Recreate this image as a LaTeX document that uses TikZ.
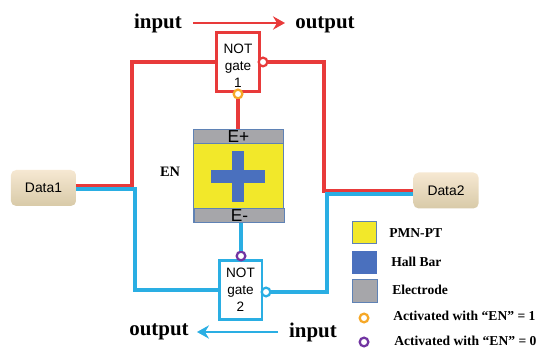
\documentclass[tikz,border=0pt]{standalone}
\usepackage{fontspec}
\setmainfont{Liberation Serif}
\setsansfont{Liberation Sans}
\usetikzlibrary{arrows.meta,positioning}
\definecolor{wirered}{HTML}{E83A3A}
\definecolor{wireblue}{HTML}{2AAEE3}
\definecolor{chipyellow}{HTML}{F2E82A}
\definecolor{hallblue}{HTML}{4A70BE}
\definecolor{elecgray}{HTML}{A6A6AA}
\definecolor{elecedge}{HTML}{5F82B5}
\definecolor{bubor}{HTML}{F6A828}
\definecolor{bubpu}{HTML}{7235A2}
\definecolor{datatop}{HTML}{F6E8D2}
\definecolor{databot}{HTML}{D8CAA8}
\begin{document}
\begin{tikzpicture}[x=0.75pt,y=-0.75pt,
  gatebox/.style={draw,line width=2pt,fill=white,minimum width=32pt,minimum height=44pt,align=center,font=\sffamily\fontsize{10.2}{12.8}\selectfont,inner sep=0pt},
  bub/.style={circle,draw,line width=1.7pt,fill=white,minimum size=6.5pt,inner sep=0pt},
  datab/.style={rounded corners=4pt,top color=datatop,bottom color=databot,minimum width=49pt,minimum height=27pt,font=\sffamily\fontsize{10.4}{12}\selectfont,inner sep=0pt},
  elec/.style={draw=elecedge,line width=0.6pt,fill=elecgray,minimum width=68pt,minimum height=11pt,font=\sffamily\fontsize{13}{13}\selectfont,inner sep=0pt},
  swatch/.style={minimum width=18.5pt,minimum height=17pt,inner sep=0pt},
  wire/.style={line width=2.4pt},
  arr/.style={-{Stealth[length=9pt,width=10pt,inset=3pt]},line width=2.1pt},
  lab/.style={font=\bfseries\fontsize{15.7}{16}\selectfont,inner sep=0pt},
  leg/.style={font=\bfseries\fontsize{10.2}{12}\selectfont,anchor=west,inner sep=0pt}]
\useasboundingbox (0,0) rectangle (541,348);
% chip
\node[draw=elecedge,line width=0.6pt,fill=chipyellow,minimum width=68pt,minimum height=70pt,inner sep=0pt] (chip) at (238.5,176) {};
\node[fill=hallblue,minimum width=9pt,minimum height=38pt,inner sep=0pt] (hallv) at (238,176.5) {};
\node[fill=hallblue,minimum width=40.5pt,minimum height=10pt,inner sep=0pt] (hallh) at (238,176.5) {};
\node[elec] (eplus) at (238.5,136.5) {E+};
\node[elec] (eminus) at (239.5,215.5) {E-};
\node[font=\bfseries\fontsize{10.8}{12}\selectfont,inner sep=0pt] (en) at (170,172) {EN};
% gates and data
\node[datab] (done) at (43.5,188) {Data1};
\node[datab] (dtwo) at (446,190.5) {Data2};
\node[gatebox,draw=wirered] (gone) at (238,62) {\rule{0pt}{13.3pt}NOT\\gate\\1};
\node[gatebox,draw=wireblue] (gtwo) at (240.5,290) {NOT\\gate\\2};
\node[bub,draw=wirered] (bone) at (263,62) {};
\node[bub,draw=wireblue] (btwo) at (266,292) {};
\node[bub,draw=bubor] (enone) at (238,94) {};
\node[bub,draw=bubpu] (entwo) at (241,256) {};
% wires
\coordinate (lr) at (132,186);
\coordinate (lb) at (135,189);
\coordinate (rr) at (324,191);
\coordinate (rb) at (327,194);
\draw[wire,wirered] (gone.west) -| (lr) -- (lr -| done.east);
\draw[wire,wireblue] (gtwo.west) -| (lb) -- (lb -| done.east);
\draw[wire,wirered] (bone.east) -| (rr) -- (rr -| dtwo.west);
\draw[wire,wireblue] (btwo.east) -| (rb) -- (rb -| dtwo.west);
\draw[wire,wirered] (enone.south) -- (enone |- eplus.north);
\draw[wire,wireblue] (entwo.north) -- (entwo |- eminus.south);
% input output labels
\node[lab] (inone) at (158,23) {input};
\node[lab] (outone) at (325,25) {output};
\node[lab] (outtwo) at (159,332) {output};
\node[lab] (intwo) at (313,332) {input};
\coordinate (aone) at (193,23);
\coordinate (bonearr) at (285,23);
\coordinate (atwo) at (278,332);
\coordinate (btwoarr) at (197,332);
\draw[arr,wirered] (aone) -- (bonearr);
\draw[arr,wireblue] (atwo) -- (btwoarr);
% legend
\node[swatch,draw=elecedge,line width=0.6pt,fill=chipyellow] (sone) at (364.5,232.5) {};
\node[swatch,fill=hallblue] (stwo) at (364.5,262.5) {};
\node[swatch,draw=elecedge,line width=0.6pt,fill=elecgray] (sthree) at (365,291) {};
\node[bub,draw=bubor] (sfour) at (364,318) {};
\node[bub,draw=bubpu] (sfive) at (364,342) {};
\node[leg] at (389,233) {PMN-PT};
\node[leg] at (391,262) {Hall Bar};
\node[leg] at (392,290) {Electrode};
\node[leg] at (393,316) {Activated with “EN” = 1};
\node[leg] at (394,341) {Activated with “EN” = 0};
\end{tikzpicture}
\end{document}
